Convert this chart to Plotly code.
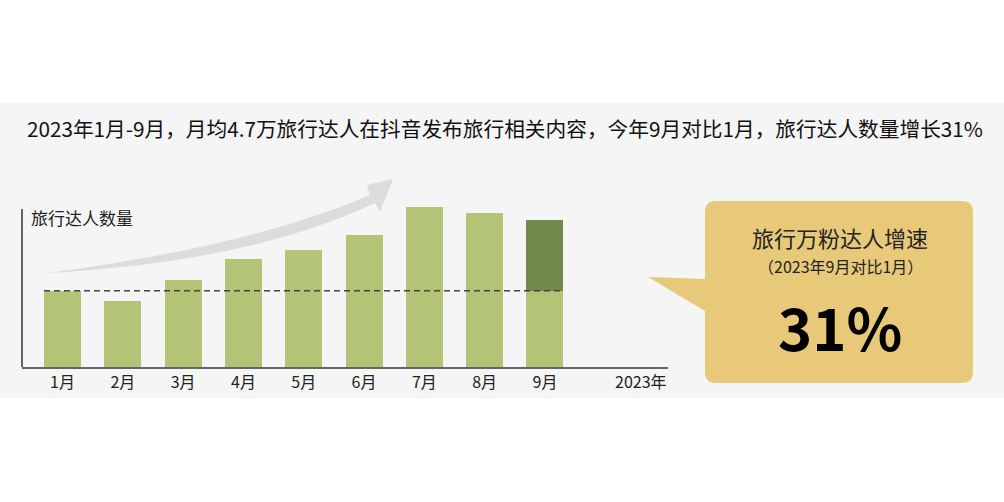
import plotly.graph_objects as go

# ---- data ----
months = ["1月", "2月", "3月", "4月", "5月", "6月", "7月", "8月", "9月"]
creators = [3.08, 2.66, 3.51, 4.36, 4.72, 5.33, 6.46, 6.22, 5.94]  # 万 (schematic)
year_label = "2023年"
title_text = "2023年1月-9月，月均4.7万旅行达人在抖音发布旅行相关内容，今年9月对比1月，旅行达人数量增长31%"
ytitle_text = "旅行达人数量"
callout_title = "旅行万粉达人增速"
callout_sub = "（2023年9月对比1月）"
callout_value = "31%"

W, H = 1004, 502
FONT = "Noto Sans CJK SC"


def px(x):
    return x / W


def py(y):
    return 1 - y / H


base_val = creators[0]
base_part = creators[:-1] + [min(creators[-1], base_val)]
growth_part = [0] * (len(creators) - 1) + [creators[-1] - base_val]

fig = go.Figure()
fig.add_trace(go.Bar(x=months, y=base_part, marker=dict(color="#b4c477", line=dict(width=0)),
                     width=0.614, hoverinfo="skip"))
fig.add_trace(go.Bar(x=months, y=growth_part, marker=dict(color="#728a49", line=dict(width=0)),
                     width=0.614, hoverinfo="skip"))

shapes = []
# gray panel
shapes.append(dict(type="rect", xref="paper", yref="paper", x0=0, x1=1, y0=py(398), y1=py(103),
                   fillcolor="#f5f5f5", line=dict(width=0), layer="below"))
# y axis line
shapes.append(dict(type="line", xref="paper", yref="paper", x0=px(22), x1=px(22), y0=py(209), y1=py(367),
                   line=dict(color="#333333", width=1.5)))
# dashed reference line at January level
shapes.append(dict(type="line", xref="x", yref="y", x0=-0.307, x1=len(months) - 1 + 0.307,
                   y0=base_val, y1=base_val, line=dict(color="#444444", width=1.5, dash="6px,4px")))


def P(x, y):
    return f"{px(x):.5f},{py(y):.5f}"


# gray growth arrow
arrow = (f"M {P(48,273)} Q {P(250,262)} {P(375,203)} L {P(380,212)} L {P(393,179)} "
         f"L {P(367,185)} L {P(370,195)} Q {P(251,246)} {P(48,273)} Z")
shapes.append(dict(type="path", xref="paper", yref="paper", path=arrow,
                   fillcolor="#dcdcdc", line=dict(width=0)))

# callout box with pointer
x0, x1, y0, y1, r = 705, 973, 201, 383, 11
box = (f"M {P(x0+r,y0)} L {P(x1-r,y0)} Q {P(x1,y0)} {P(x1,y0+r)} L {P(x1,y1-r)} "
       f"Q {P(x1,y1)} {P(x1-r,y1)} L {P(x0+r,y1)} Q {P(x0,y1)} {P(x0,y1-r)} "
       f"L {P(x0,311)} L {P(648,277)} L {P(x0,279)} L {P(x0,y0+r)} Q {P(x0,y0)} {P(x0+r,y0)} Z")
shapes.append(dict(type="path", xref="paper", yref="paper", path=box,
                   fillcolor="#e8c979", line=dict(width=0)))

annotations = [
    dict(text=title_text, xref="paper", yref="paper", x=px(25), y=py(128), xanchor="left", yanchor="middle",
         showarrow=False, font=dict(family=FONT, size=20.7, color="#111111")),
    dict(text=ytitle_text, xref="paper", yref="paper", x=px(29), y=py(217), xanchor="left", yanchor="middle",
         showarrow=False, font=dict(family=FONT, size=17, color="#222222")),
    dict(text=year_label, xref="paper", yref="paper", x=px(641), y=py(381), xanchor="center", yanchor="middle",
         showarrow=False, font=dict(family=FONT, size=16, color="#222222")),
    dict(text=callout_title, xref="paper", yref="paper", x=px(840), y=py(237), xanchor="center", yanchor="middle",
         showarrow=False, font=dict(family=FONT, size=22, color="#222222")),
    dict(text=callout_sub, xref="paper", yref="paper", x=px(840), y=py(266), xanchor="center", yanchor="middle",
         showarrow=False, font=dict(family=FONT, size=16, color="#222222")),
    dict(text=f"<b>{callout_value}</b>", xref="paper", yref="paper", x=px(840), y=py(326), xanchor="center",
         yanchor="middle", showarrow=False, font=dict(family=FONT, size=58, color="#000000")),
]

fig.update_layout(
    width=W, height=H, autosize=False,
    margin=dict(l=0, r=0, t=0, b=0),
    paper_bgcolor="#ffffff", plot_bgcolor="rgba(0,0,0,0)",
    barmode="stack", showlegend=False,
    shapes=shapes, annotations=annotations,
    font=dict(family=FONT),
    xaxis=dict(domain=[px(22), px(668)], range=[-0.672, 10.04], type="category",
               showline=True, linecolor="#666666", linewidth=1.5, showgrid=False, zeroline=False,
               ticks="", tickfont=dict(family=FONT, size=16, color="#222222"), fixedrange=True),
    yaxis=dict(domain=[py(367), py(160)], range=[0, 8.36], visible=False, fixedrange=True),
)

fig.write_html("out.html", config={"displayModeBar": False},
               post_script="document.body.style.margin='0';document.body.style.padding='0';")
